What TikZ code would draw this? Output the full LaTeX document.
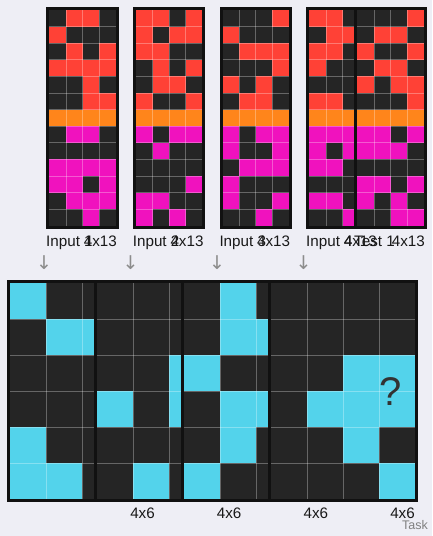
\documentclass[tikz,border=0pt]{standalone}
\usepackage{fontspec}
\setmainfont{Liberation Sans}
\newfontfamily\arrowfont{DejaVu Sans}
\usepackage{tikz}
\usetikzlibrary{positioning}

\definecolor{cK}{HTML}{252525}
\definecolor{cR}{HTML}{FF4136}
\definecolor{cO}{HTML}{FF851B}
\definecolor{cM}{HTML}{F012BE}
\definecolor{cC}{HTML}{53D3EB}
\definecolor{bgcol}{HTML}{EEEEF5}
\definecolor{framecol}{HTML}{111111}

\tikzset{
  cellline/.style={white, opacity=0.3, line width=0.8pt},
  gridframe/.style={draw=framecol, line width=3pt},
  lbl/.style={inner sep=0pt, text=black!90, font=\fontsize{15.2}{16}\selectfont},
  downarr/.style={inner sep=0pt, text=black!45, font=\arrowfont\fontsize{19}{20}\selectfont},
}

% #1,#2 top left corner of the cells, #3 cell size, #4 columns, #5 rows, #6 colours row by row
\newcommand{\arcgrid}[6]{%
  \foreach \row [count=\j] in {#6} {
    \foreach \cl [count=\i] in \row
      \fill[c\cl] ({#1+(\i-1)*#3},{#2+(\j-1)*#3}) rectangle ++(#3,#3);
  }
  \pgfmathtruncatemacro\lastcol{#4-1}
  \pgfmathtruncatemacro\lastrow{#5-1}
  \foreach \i in {1,...,\lastcol}
    \draw[cellline] ({#1+\i*#3},#2) -- ++(0,{#5*#3});
  \foreach \j in {1,...,\lastrow}
    \draw[cellline] (#1,{#2+\j*#3}) -- ++({#4*#3},0);
  \draw[gridframe] ({#1-1.5},{#2-1.5}) rectangle ({#1+#4*#3+1.5},{#2+#5*#3+1.5});
}

\begin{document}
\begin{tikzpicture}[x=1pt, y=-1pt]
        \fill[bgcol] (0,0) rectangle (432,536);
        \useasboundingbox (0,0) rectangle (432,536);

        % Input grids
        \arcgrid{49.3}{10}{16.6}{4}{13}{{K,R,R,K},{R,K,K,K},{K,R,K,R},{R,R,R,R},{K,K,R,K},{K,K,R,R},{O,O,O,O},{K,M,M,K},{K,K,K,K},{M,M,M,M},{M,M,K,M},{K,M,M,M},{K,K,M,K}}
        \arcgrid{136}{10}{16.6}{4}{13}{{R,R,K,R},{R,K,R,R},{R,R,K,K},{K,R,K,R},{K,R,R,K},{R,K,K,R},{O,O,O,O},{M,K,M,M},{K,M,K,K},{K,K,K,K},{K,K,K,M},{M,M,K,K},{M,K,M,K}}
        \arcgrid{222.6}{10}{16.6}{4}{13}{{K,K,K,R},{R,K,K,K},{K,R,R,R},{K,K,K,R},{R,K,R,K},{K,R,R,K},{O,O,O,O},{M,K,M,M},{M,K,K,M},{K,M,M,M},{M,K,K,K},{M,K,K,M},{K,K,M,K}}
        \arcgrid{309.3}{10}{16.6}{4}{13}{{R,R,K,K},{K,R,R,K},{R,R,K,K},{R,K,K,K},{K,K,K,K},{R,R,K,K},{O,O,O,O},{M,M,M,K},{M,K,M,K},{M,M,K,K},{K,K,K,K},{M,M,K,K},{K,K,M,K}}
        \arcgrid{357.3}{10}{16.6}{4}{13}{{K,K,K,R},{K,R,R,K},{R,K,K,R},{K,R,R,K},{R,K,R,R},{K,K,K,R},{O,O,O,O},{M,M,K,M},{M,M,M,K},{K,K,K,K},{M,M,K,M},{M,K,M,K},{K,K,M,M}}

        % Labels
        \node[lbl, anchor=base west] (in1name) at (46, 246.5) {Input 1};
        \node[lbl, anchor=base east] (in1size) at (117, 246.5) {4x13};
        \node[lbl, anchor=base west] (in2name) at (132.7, 246.5) {Input 2};
        \node[lbl, anchor=base east] (in2size) at (203.7, 246.5) {4x13};
        \node[lbl, anchor=base west] (in3name) at (219.3, 246.5) {Input 3};
        \node[lbl, anchor=base east] (in3size) at (290.3, 246.5) {4x13};
        \node[lbl, anchor=base west] (in4name) at (306, 246.5) {Input 4};
        \node[lbl, anchor=base east] (in4size) at (377, 246.5) {4x13};
        \node[lbl, anchor=base west] (testname) at (354, 246.5) {Test 1};
        \node[lbl, anchor=base east] (testsize) at (425, 246.5) {4x13};

        % Arrows
        \node[downarr] (arr1) at (44, 262.5) {↓};
        \node[downarr] (arr2) at (130.5, 262.5) {↓};
        \node[downarr] (arr3) at (217, 262.5) {↓};
        \node[downarr] (arr4) at (303.5, 262.5) {↓};

        % Output grids
        \arcgrid{10}{283}{36}{4}{6}{{C,K,K,K},{K,C,C,K},{K,K,K,K},{K,K,K,K},{C,K,K,K},{C,C,K,K}}
        \arcgrid{97}{283}{36}{4}{6}{{K,K,K,K},{K,K,K,K},{K,K,C,K},{C,K,C,K},{K,K,K,K},{K,C,K,K}}
        \arcgrid{184}{283}{36}{4}{6}{{K,C,K,K},{K,C,C,K},{C,K,K,K},{K,C,C,K},{K,C,K,K},{C,K,K,K}}
        \arcgrid{271}{283}{36}{4}{6}{{K,K,K,K},{K,K,K,K},{K,K,C,C},{K,C,C,C},{K,K,C,K},{K,K,K,C}}
        \node[inner sep=0pt, text=black!80, font=\fontsize{40}{40}\selectfont] (qmark) at (390.5, 392) {?};

        \node[lbl, anchor=base east] (out1size) at (155, 518.3) {4x6};
        \node[lbl, anchor=base east] (out2size) at (241.6, 518.3) {4x6};
        \node[lbl, anchor=base east] (out3size) at (328.3, 518.3) {4x6};
        \node[lbl, anchor=base east] (out4size) at (415, 518.3) {4x6};
        \node[inner sep=0pt, anchor=base east, text=black!50, font=\fontsize{12.5}{13}\selectfont] (task) at (428, 529.5) {Task};
\end{tikzpicture}
\end{document}
